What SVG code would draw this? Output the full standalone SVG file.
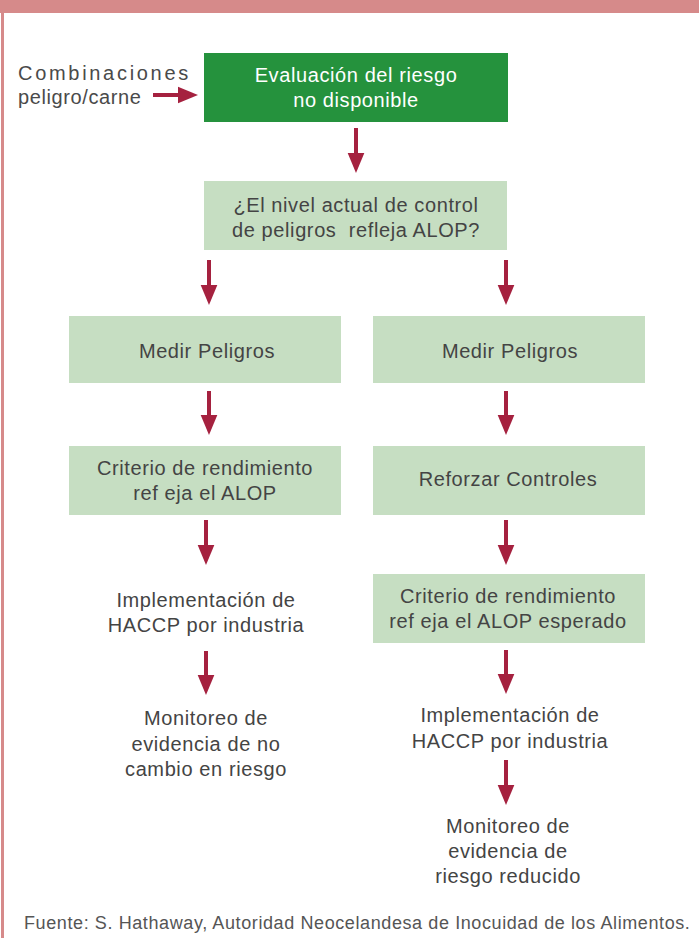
<svg xmlns="http://www.w3.org/2000/svg" width="699" height="938" viewBox="0 0 699 938">
<style>
.t{font-family:"Liberation Sans",Arial,sans-serif;font-size:20px;letter-spacing:0.6px;fill:#444444;text-anchor:middle}
.w{font-family:"Liberation Sans",Arial,sans-serif;font-size:20px;letter-spacing:0.6px;fill:#ffffff;text-anchor:middle}
.lb{fill:#c6dec2}
.c{stroke:#a5213f;stroke-width:4;fill:none;marker-end:url(#ah)}
</style>
<defs>
<marker id="ah" markerUnits="userSpaceOnUse" markerWidth="20" markerHeight="24" refX="0" refY="10" viewBox="0 0 24 20" orient="auto">
<path d="M0,0 L24,10 L0,20 Z" fill="#a5213f"/>
</marker>
</defs>
<rect x="0" y="0" width="699" height="13" fill="#d68a8a"/>
<rect x="1" y="13" width="3" height="925" fill="#d68a8a"/>
<g id="source">
<text x="18" y="80" style="font-family:'Liberation Sans',Arial,sans-serif;font-size:20px;fill:#4a4a4a;letter-spacing:2.7px">Combinaciones</text>
<text x="18" y="104" style="font-family:'Liberation Sans',Arial,sans-serif;font-size:20px;fill:#4a4a4a;letter-spacing:0.6px">peligro/carne</text>
</g>
<g id="n1"><rect x="204" y="53" width="304" height="69" fill="#25923d"/>
<text class="w" x="356" y="82">Evaluación del riesgo</text><text class="w" x="356" y="107">no disponible</text></g>
<g id="n2"><rect class="lb" x="204" y="181" width="303" height="69"/>
<text class="t" x="356" y="212">¿El nivel actual de control</text><text class="t" x="356" y="237" xml:space="preserve" style="white-space:pre">de peligros  refleja ALOP?</text></g>
<g id="n3"><rect class="lb" x="69" y="316" width="272" height="67"/><text class="t" x="207" y="358">Medir Peligros</text></g>
<g id="n4"><rect class="lb" x="373" y="316" width="272" height="67"/><text class="t" x="510" y="358">Medir Peligros</text></g>
<g id="n5"><rect class="lb" x="69" y="446" width="272" height="69"/>
<text class="t" x="205" y="475">Criterio de rendimiento</text><text class="t" x="205" y="500">ref eja el ALOP</text></g>
<g id="n6"><rect class="lb" x="373" y="446" width="272" height="69"/><text class="t" x="508" y="486">Reforzar Controles</text></g>
<g id="n7"><text class="t" x="206" y="607">Implementación de</text><text class="t" x="206" y="632">HACCP por industria</text></g>
<g id="n8"><rect class="lb" x="373" y="574" width="272" height="69"/>
<text class="t" x="508" y="603">Criterio de rendimiento</text><text class="t" x="508" y="628">ref eja el ALOP esperado</text></g>
<g id="n9"><text class="t" x="206" y="725">Monitoreo de</text><text class="t" x="206" y="751">evidencia de no</text><text class="t" x="206" y="776">cambio en riesgo</text></g>
<g id="n10"><text class="t" x="510" y="722">Implementación de</text><text class="t" x="510" y="748">HACCP por industria</text></g>
<g id="n11"><text class="t" x="508" y="833">Monitoreo de</text><text class="t" x="508" y="858">evidencia de</text><text class="t" x="508" y="883">riesgo reducido</text></g>
<g id="connectors">
<line class="c" x1="153" y1="95" x2="178" y2="95"/>
<line class="c" x1="356" y1="128" x2="356" y2="153"/>
<line class="c" x1="209" y1="260" x2="209" y2="285"/>
<line class="c" x1="506" y1="260" x2="506" y2="285"/>
<line class="c" x1="209" y1="391" x2="209" y2="415"/>
<line class="c" x1="506" y1="391" x2="506" y2="415"/>
<line class="c" x1="206" y1="520" x2="206" y2="545"/>
<line class="c" x1="506" y1="520" x2="506" y2="545"/>
<line class="c" x1="206" y1="651" x2="206" y2="675"/>
<line class="c" x1="506" y1="650" x2="506" y2="674"/>
<line class="c" x1="506" y1="760" x2="506" y2="785"/>
</g>
<text x="24" y="929" style="font-family:'Liberation Sans',Arial,sans-serif;font-size:18px;letter-spacing:0.6px;fill:#555555">Fuente: S. Hathaway, Autoridad Neocelandesa de Inocuidad de los Alimentos.</text>
</svg>
